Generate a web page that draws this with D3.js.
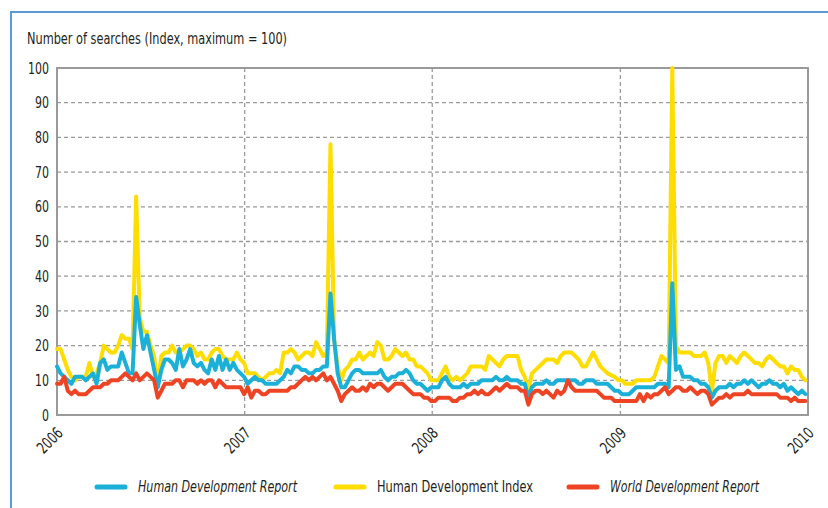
<!DOCTYPE html>
<html>
<head>
<meta charset="utf-8">
<script src="https://cdn.jsdelivr.net/npm/d3@7"></script>
<style>
  body { margin: 0; background: #fff; }
  text { font-family: "DejaVu Sans Condensed", "Liberation Sans Narrow", sans-serif; fill: #231f20; }
</style>
</head>
<body>
<script>
const width = 828;
const height = 508;

// weekly Google search index, first week starting 1 Jan 2006
const startDate = new Date(Date.UTC(2006, 0, 1));
const yearTicks = [2006, 2007, 2008, 2009, 2010];
const yTicks = [0, 10, 20, 30, 40, 50, 60, 70, 80, 90, 100];

const hdiValues = [
  19,19,16,13,11,10,11,11,11,15, 11,12,15,20,19,18,18,20,23,22,
  22,19,63,28,24,24,20,17,8,17, 18,18,20,18,18,19,20,20,19,17,
  18,16,16,18,19,19,17,16,16,16, 18,16,15,12,12,12,11,10,11,12,
  12,13,12,18,18,19,18,16,17,18, 18,17,21,19,17,18,78,22,14,10,
  13,14,16,16,18,16,17,18,17,21, 20,16,16,17,19,18,17,18,16,16,
  14,14,13,12,10,10,10,12,14,11, 10,11,10,11,12,14,14,14,14,13,
  17,16,15,14,16,17,17,17,17,13, 11,7,12,13,14,15,16,16,16,15,
  17,18,18,18,17,16,14,14,16,18, 16,14,13,12,11.5,11,10,10,9,9,
  9,10,10,10,10,10,11,14,17,16, 15,100,20,18,18,18,18,17,17,17,
  18,15,7,15,17,17,15,17,16,15, 17,18,17,16,15,15,14,16,17,16,
  15,14,14,12,14,13,13,11,10
];

const hdrValues = [
  14,12,11,10,9,11,11,11,10,11, 12,9,15,16,13,14,14,14,18,15,
  12,12,34,26,19,23,18,13,8,13, 16,16,15,13,19,14,16,19,15,14,
  15,13,12,16,13,17,13,16,13,15, 13,12,11,9,10,11,10,10,9,9,
  9,9,10,11,13,12,14,14,13,13, 12,12,13,13,14,14,35,22,12,8,
  8,10,12,13,13,12,12,12,12,12, 13,11,10,11,11,12,12,13,12,10,
  9,9,8,7,8,8,8,10,11,9, 8,8,8,9,8,9,9,9,10,10,
  10,10,11,10,10,11,10,10,10,9, 9,5,8,9,9,9,10,9,9,10,
  10,10,10,10,10,9,9,10,10,10, 9,9,9,9,8,7,7,6,6,6,
  7,8,8,8,8,8,8,9,9,9, 8,38,13,14,11,11,11,10,10,9,
  9,8,5,7,8,8,8,9,8,9, 9,10,9,10,9,8,9,9,10,9,
  9,8,9,7,8,7,6,7,6
];

const wdrValues = [
  9,9,11,7,6,7,6,6,6,7, 8,8,8,9,9,10,10,10,11,12,
  11,10,12,10,11,12,11,10,5,7, 9,9,9,10,10,8,10,10,10,9,
  10,9,10,10,8,10,9,8,8,8, 8,8,6,8,5,7,7,6,6,7,
  7,7,7,7,7,8,8,9,10,11, 10,11,10,11,12,10,11,9,7,4,
  6,7,8,7,7,8,7,9,8,9, 9,8,7,8,9,9,9,8,7,6,
  6,6,5,5,4,4,5,5,5,5, 4,4,5,5,6,6,7,6,7,6,
  6,7,8,7,8,9,8,8,8,7, 7,3,6,7,7,6,7,6,5,7,
  6,7,10,8,7,7,7,7,7,7, 7,6,5,5,5,4,4,4,4,4,
  4,4,6,4,6,5,6,6,7,8, 6,7,8,8,7,7,8,7,6,7,
  7,6,3,4,5,5,6,5,6,6, 6,6,7,6,6,6,6,6,6,6,
  6,5,5,5,4,5,4,4,4
];

const seriesNames = ["Human Development Report", "Human Development Index", "World Development Report"];
const seriesColors = ["#1bb0d8", "#ffdd00", "#ef4423"];
const seriesItalic = [true, false, true];

const margin = { left: 57, top: 68 };
const plotRight = 808;
const plotBottom = 415;

const svg = d3.select("body").append("svg")
  .attr("width", width)
  .attr("height", height);

// outer blue frame
svg.append("path")
  .attr("d", `M11,${height} V12 H${width}`)
  .attr("fill", "none")
  .attr("stroke", "#5b9bd5")
  .attr("stroke-width", 2);

const x = d3.scaleUtc()
  .domain([startDate, new Date(Date.UTC(2010, 0, 1))])
  .range([margin.left, plotRight]);

const y = d3.scaleLinear()
  .domain([0, 100])
  .range([plotBottom, margin.top]);

const dates = hdiValues.map((_, i) => d3.utcDay.offset(startDate, 7 * i));
const yearDate = d => new Date(Date.UTC(d, 0, 1));

// grid
const grid = svg.append("g");
grid.selectAll(".hgrid")
  .data(yTicks.filter(d => d > 0 && d < 100))
  .join("line")
  .attr("x1", margin.left).attr("x2", plotRight)
  .attr("y1", d => y(d)).attr("y2", d => y(d))
  .attr("stroke", "#9a9a9a")
  .attr("stroke-width", 1.3)
  .attr("stroke-dasharray", "4,3");

grid.selectAll(".vgrid")
  .data(yearTicks.slice(1, -1))
  .join("line")
  .attr("x1", d => x(yearDate(d)))
  .attr("x2", d => x(yearDate(d)))
  .attr("y1", margin.top).attr("y2", plotBottom)
  .attr("stroke", "#9a9a9a")
  .attr("stroke-width", 1.3)
  .attr("stroke-dasharray", "4,3");

// plot border
svg.append("rect")
  .attr("x", margin.left).attr("y", margin.top)
  .attr("width", plotRight - margin.left)
  .attr("height", plotBottom - margin.top)
  .attr("fill", "none")
  .attr("stroke", "#9a9a9a")
  .attr("stroke-width", 2);

// y axis labels
const yAxis = d3.axisLeft(y).tickValues(yTicks).tickSize(0).tickPadding(8);
svg.append("g")
  .attr("transform", `translate(${margin.left},0)`)
  .call(yAxis)
  .call(g => g.select(".domain").remove())
  .selectAll("text")
  .style("font-family", '"DejaVu Sans Condensed", sans-serif')
  .style("font-size", "16px")
  .attr("fill", "#231f20")
  .attr("textLength", d => String(d).length * 7)
  .attr("lengthAdjust", "spacingAndGlyphs");

// x axis labels (rotated)
svg.append("g")
  .selectAll("text")
  .data(yearTicks)
  .join("text")
  .attr("transform", d => `translate(${x(yearDate(d)) + 7},434) rotate(-45)`)
  .attr("text-anchor", "end")
  .style("font-size", "16px")
  .attr("textLength", 29)
  .attr("lengthAdjust", "spacingAndGlyphs")
  .text(d => d);

// y title
svg.append("text")
  .attr("x", 27).attr("y", 44)
  .style("font-size", "16px")
  .attr("textLength", 260)
  .attr("lengthAdjust", "spacingAndGlyphs")
  .text("Number of searches (Index, maximum = 100)");

// lines
const line = d3.line()
  .x((d, i) => x(dates[i]))
  .y(d => y(d));

const drawOrder = [
  { values: hdiValues, color: seriesColors[1] },
  { values: hdrValues, color: seriesColors[0] },
  { values: wdrValues, color: seriesColors[2] }
];

svg.append("g")
  .selectAll("path")
  .data(drawOrder)
  .join("path")
  .attr("d", d => line(d.values))
  .attr("fill", "none")
  .attr("stroke", d => d.color)
  .attr("stroke-width", 4)
  .attr("stroke-linejoin", "round")
  .attr("stroke-linecap", "round");

// legend
const legendX = [95, 334, 567];
const legendTextW = [159, 156, 149];
const legend = svg.append("g")
  .selectAll("g")
  .data(seriesNames)
  .join("g")
  .attr("transform", (d, i) => `translate(${legendX[i]},487)`);

legend.append("line")
  .attr("x1", 2).attr("x2", 30)
  .attr("y1", 0).attr("y2", 0)
  .attr("stroke", (d, i) => seriesColors[i])
  .attr("stroke-width", 5)
  .attr("stroke-linecap", "round");

legend.append("text")
  .attr("x", 43).attr("y", 5)
  .style("font-size", "16px")
  .style("font-style", (d, i) => seriesItalic[i] ? "italic" : "normal")
  .attr("textLength", (d, i) => legendTextW[i])
  .attr("lengthAdjust", "spacingAndGlyphs")
  .text(d => d);
</script>
</body>
</html>
